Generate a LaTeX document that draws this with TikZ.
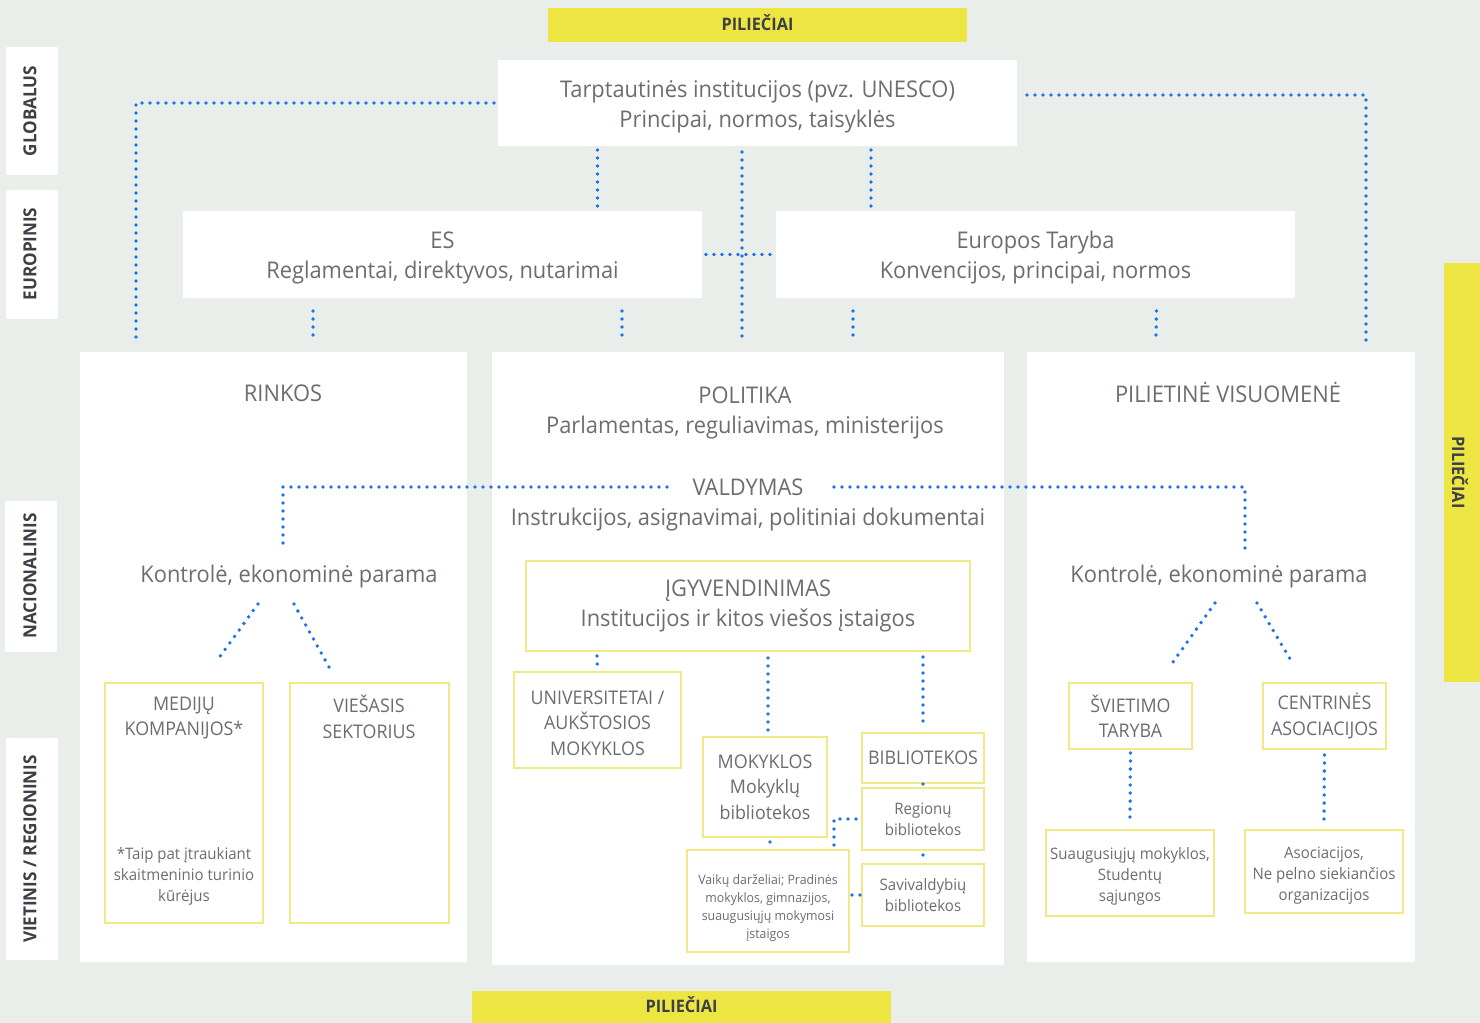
\documentclass[tikz,border=0pt]{standalone}
\usepackage{fontspec}
\setmainfont{Open Sans}[FakeStretch=0.95]
\usetikzlibrary{calc}
\definecolor{bgc}{HTML}{EAEEEB}
\definecolor{yel}{HTML}{ECE542}
\definecolor{yelb}{HTML}{F0E985}
\definecolor{blu}{HTML}{1A73E8}
\definecolor{txc}{HTML}{6A6D71}
\definecolor{lbc}{HTML}{3C4046}
\newcommand{\fbig}{\fontsize{11.5}{15}\selectfont}
\newcommand{\fmid}{\fontsize{9.4}{12.7}\selectfont}
\newcommand{\fsm}{\fontsize{7.9}{10.5}\selectfont}
\newcommand{\ftiny}{\fontsize{6.5}{8.9}\selectfont}
\newcommand{\flbl}{\fontsize{9}{10}\selectfont\bfseries}
\newcommand{\fbar}{\fontsize{8.6}{10}\selectfont\bfseries}
\newcommand{\Rect}[7]{\node[#1, minimum width={(#5-#3)*0.5pt}, minimum height={(#6-#4)*0.5pt}] (#2) at ({(#3+#5)/2},{(#4+#6)/2}) {#7};}
\begin{document}
\begin{tikzpicture}[x=0.5pt,y=-0.5pt,
  wbox/.style={fill=white, draw=none, inner sep=0pt, outer sep=0pt, text=txc, align=center, font=\fbig},
  ybox/.style={fill=white, draw=yelb, line width=0.65pt, inner sep=0pt, outer sep=0pt, text=txc, align=center},
  ybar/.style={fill=yel, draw=none, inner sep=0pt, outer sep=0pt},
  bartext/.style={text=lbc, font=\fbar, inner sep=0pt},
  lbox/.style={fill=white, draw=none, inner sep=0pt, outer sep=0pt},
  lbl/.style={text=lbc, font=\flbl, inner sep=0pt},
  txt/.style={text=txc, inner sep=0pt, align=center},
  dots/.style={draw=blu, line width=1.9pt, dash pattern=on 0pt off 4pt, line cap=round}]
\fill[bgc] (0,0) rectangle (1480,1023);
\useasboundingbox (0,0) rectangle (1480,1023);
% citizens bars
\Rect{ybar}{pt}{548}{8}{967}{42}{}
\Rect{ybar}{pb}{472}{991}{891}{1023}{}
\Rect{ybar}{pr}{1444}{263}{1480}{682}{}
\node[bartext] (ptt) at ($(pt.center)+(0,-2)$) {PILIEČIAI};
\node[bartext] (pbt) at ($(pb.center)+(0,-2)$) {PILIEČIAI};
\node[bartext, rotate=-90] (prt) at ($(pr.center)+(-2,0)$) {PILIEČIAI};
% level labels
\Rect{lbox}{lg}{6}{47}{58}{175}{}
\Rect{lbox}{le}{6}{190}{58}{319}{}
\Rect{lbox}{ln}{5}{501}{57}{652}{}
\Rect{lbox}{lv}{6}{738}{58}{960}{}
\node[lbl, rotate=90] (lgt) at (30,111) {GLOBALUS};
\node[lbl, rotate=90] (let) at (30,254) {EUROPINIS};
\node[lbl, rotate=90] (lnt) at (30,576) {NACIONALINIS};
\node[lbl, rotate=90] (lvt) at (30,849) {VIETINIS / REGIONINIS};
% top boxes
\Rect{wbox}{ti}{498}{60}{1017}{146}{}
\Rect{wbox}{es}{183}{211}{702}{298}{}
\Rect{wbox}{et}{776}{211}{1295}{298}{}
\node[txt, font=\fbig] (tit) at ($(ti.center)+(0,4)$) {Tarptautinės institucijos (pvz. UNESCO)\\Principai, normos, taisyklės};
\node[txt, font=\fbig] (est) at ($(es.center)+(0,3)$) {ES\\Reglamentai, direktyvos, nutarimai};
\node[txt, font=\fbig] (ett) at ($(et.center)+(0,3)$) {Europos Taryba\\Konvencijos, principai, normos};
% columns
\Rect{lbox}{rk}{80}{352}{467}{962}{}
\Rect{lbox}{po}{492}{352}{1004}{965}{}
\Rect{lbox}{pv}{1027}{352}{1415}{962}{}
\node[txt, font=\fbig] (rkt) at (283,393) {RINKOS};
\node[txt, font=\fbig] (pot) at (745,413) {POLITIKA\\Parlamentas, reguliavimas, ministerijos};
\node[txt, font=\fbig] (pvt) at (1228,392) {PILIETINĖ VISUOMENĖ};
\node[txt, font=\fbig] (vd) at (748,487) {VALDYMAS};
\node[txt, font=\fbig] (vdi) at (748,520) {Instrukcijos, asignavimai, politiniai dokumentai};
\node[txt, font=\fbig] (kl) at (289,577) {Kontrolė, ekonominė parama};
\node[txt, font=\fbig] (kr) at (1219,577) {Kontrolė, ekonominė parama};
% left column boxes
\Rect{ybox}{md}{105}{683}{263}{923}{}
\node[txt, font=\fmid] (mdt) at (184,718) {MEDIJŲ\\KOMPANIJOS*};
\node[txt, font=\fsm] (mdn) at (184,876) {*Taip pat įtraukiant\\skaitmeninio turinio\\kūrėjus};
\Rect{ybox}{vs}{290}{683}{449}{923}{}
\node[txt, font=\fmid] (vst) at (369,717) {VIEŠASIS\\SEKTORIUS};
% centre column boxes
\Rect{ybox, font=\fbig}{ig}{526}{561}{970}{651}{ĮGYVENDINIMAS\\Institucijos ir kitos viešos įstaigos}
\Rect{ybox}{un}{514}{672}{681}{768}{}
\node[txt, font=\fmid] (unt) at ($(un.center)+(0,3)$) {UNIVERSITETAI /\\AUKŠTOSIOS\\MOKYKLOS};
\Rect{ybox, font=\fmid}{mk}{703}{737}{827}{837}{MOKYKLOS\\Mokyklų\\bibliotekos}
\Rect{ybox, font=\fmid}{bi}{862}{733}{984}{783}{BIBLIOTEKOS}
\Rect{ybox, font=\fsm}{rg}{862}{788}{984}{850}{Regionų\\bibliotekos}
\Rect{ybox, font=\fsm}{sa}{862}{864}{984}{926}{Savivaldybių\\bibliotekos}
\Rect{ybox}{vk}{687}{850}{849}{952}{}
\node[txt, font=\ftiny] (vkt) at (768,908) {Vaikų darželiai; Pradinės\\mokyklos, gimnazijos,\\suaugusiųjų mokymosi\\įstaigos};
% right column boxes
\Rect{ybox, font=\fmid}{sv}{1069}{683}{1192}{749}{ŠVIETIMO\\TARYBA}
\Rect{ybox, font=\fmid}{ca}{1263}{683}{1386}{749}{CENTRINĖS\\ASOCIACIJOS}
\Rect{ybox}{su}{1046}{830}{1214}{916}{}
\Rect{ybox}{as}{1245}{830}{1403}{913}{}
\node[txt, font=\fsm] (sut) at (1130,876) {Suaugusiųjų mokyklos,\\Studentų\\sąjungos};
\node[txt, font=\fsm] (ast) at (1324,876) {Asociacijos,\\Ne pelno siekiančios\\organizacijos};
% connectors
\draw[dots] ($(ti.west)+(-4,0)$) -| ($(rk.north west)+(56,-8)$);
\draw[dots] ($(ti.east)+(10,-8)$) -| ($(pv.north east)+(-49,-10)$);
\draw[dots] ($(ti.south)+(-160,4)$) -- ($(es.north)+(155,-3)$);
\draw[dots] ($(ti.south)+(113.5,4)$) -- ($(et.north)+(-164.5,-3)$);
\draw[dots] ($(ti.south)+(-15.5,6)$) -- ($(po.north)+(-6,-10)$);
\draw[dots] ($(es.east)+(4,0)$) -- ($(et.west)+(-4,0)$);
\draw[dots] ($(es.south)+(-129.5,13)$) -- ($(rk.north)+(39.5,-16)$);
\draw[dots] ($(es.south)+(179.5,13)$) -- ($(po.north)+(-126,-16)$);
\draw[dots] ($(et.south)+(-182.5,13)$) -- ($(po.north)+(105,-16)$);
\draw[dots] ($(et.south)+(121,13)$) -- ($(pv.north)+(-65,-16)$);
\draw[dots] ($(vd.center)+(-81,0)$) -| ($(kl.center)+(-6,-28)$);
\draw[dots] ($(vd.center)+(86,0)$) -| ($(kr.center)+(26,-28)$);
\draw[dots] ($(kl.center)+(-31,27)$) -- ($(md.north)+(32,-21)$);
\draw[dots] ($(kl.center)+(5,27)$) -- ($(vs.north)+(-40.5,-16)$);
\draw[dots] ($(kr.center)+(-4,26)$) -- ($(sv.north)+(42.5,-21)$);
\draw[dots] ($(kr.center)+(38,26)$) -- ($(ca.north)+(-31.5,-19)$);
\draw[dots] ($(ig.south)+(-151,5)$) -- ($(un.north)+(0,-3)$);
\draw[dots] ($(ig.south)+(20,7)$) -- ($(mk.north)+(3,-4)$);
\draw[dots] ($(ig.south)+(175,6)$) -- ($(bi.north)+(0,-8)$);
\draw[dots] ($(bi.south)+(0,1)$) -- ($(rg.north)+(0,-1)$);
\draw[dots] ($(rg.south)+(0,5)$) -- ($(sa.north)+(0,-3)$);
\draw[dots] ($(mk.south)+(5,5)$) -- ($(vk.north)+(2,-2)$);
\draw[dots] ($(rg.west)+(-6,0)$) -| ($(vk.north east)+(-15,-4)$);
\draw[dots] ($(vk.east)+(3,-6)$) -- ($(sa.west)+(-2,0)$);
\draw[dots] ($(sv.south)+(0,4)$) -- ($(su.north)+(0,-9)$);
\draw[dots] ($(ca.south)+(0,6)$) -- ($(as.north)+(0,-7)$);
\end{tikzpicture}
\end{document}
